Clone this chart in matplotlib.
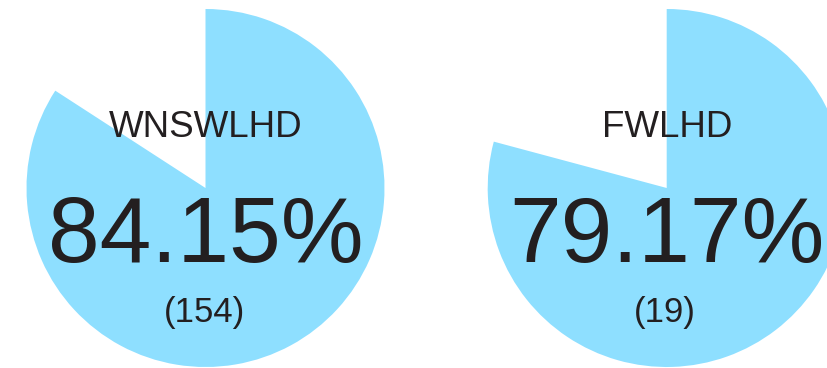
import matplotlib
matplotlib.use("Agg")
import matplotlib.pyplot as plt

labels = ["WNSWLHD", "FWLHD"]
percents = [84.15, 79.17]
counts = [154, 19]

W, H = 827, 368
fig = plt.figure(figsize=(W / 100, H / 100), dpi=100)
ax = fig.add_axes([0, 0, 1, 1])

centers_x = [205.5, 666.7]
cy = H - 188
radius = 179
blue = "#8EDFFF"
txt = "#231F20"
font = "Liberation Sans"

for cx, lab, p, n in zip(centers_x, labels, percents, counts):
    ax.pie([p, 100 - p], colors=[blue, "none"], startangle=90, counterclock=False,
           center=(cx, cy), radius=radius, frame=True,
           wedgeprops=dict(linewidth=0))
    ax.text(cx, H - 136.7, lab, ha="center", va="baseline", fontsize=26.5,
            color=txt, family=font)
    ax.text(cx, H - 261.7, f"{p:.2f}%", ha="center", va="baseline", fontsize=67,
            color=txt, family=font)
    ax.text(cx - 1.5, H - 321.7, f"({n})", ha="center", va="baseline", fontsize=25,
            color=txt, family=font)

ax.set_xlim(0, W)
ax.set_ylim(0, H)
ax.set_aspect("auto")
ax.axis("off")
fig.savefig("out.png", dpi=100)
